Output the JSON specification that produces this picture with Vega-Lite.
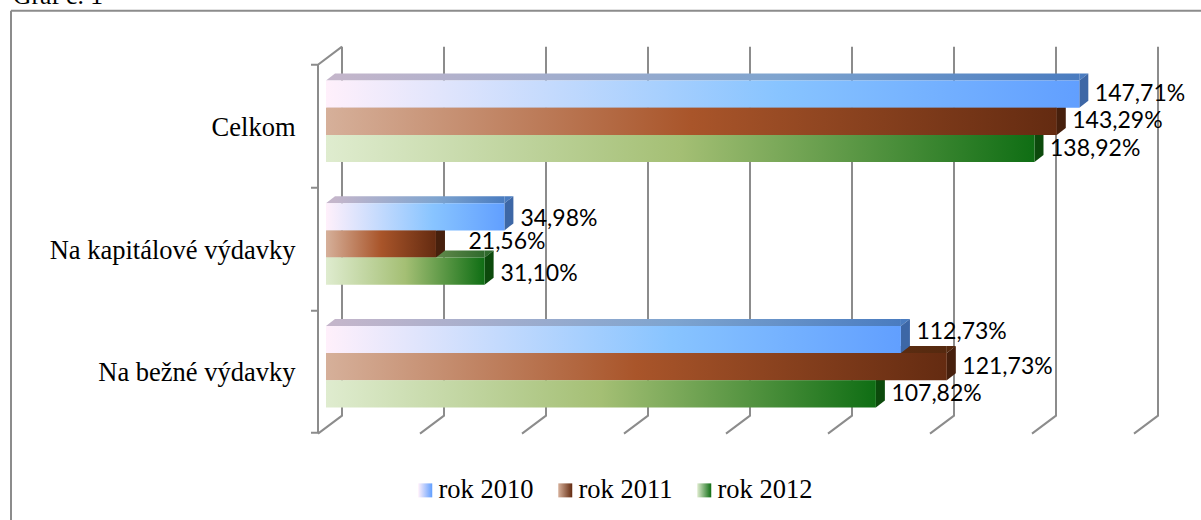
{"$schema":"https://vega.github.io/schema/vega-lite/v6.json","width":816,"height":368,"autosize":"none","padding":{"left":326,"top":60,"right":59,"bottom":92},"background":"white","title":{"text":"Graf č. 1","anchor":"start","frame":"group","dx":-313,"offset":-23,"baseline":"alphabetic","font":"Liberation Serif","fontSize":25.5,"fontWeight":"normal","color":"#000000"},"view":{"stroke":null},"data":{"values":[
{"category":"Celkom","series":"rok 2012","value":138.92,"label":"138,92%"},{"category":"Celkom","series":"rok 2011","value":143.29,"label":"143,29%"},{"category":"Celkom","series":"rok 2010","value":147.71,"label":"147,71%"},
{"category":"Na kapitálové výdavky","series":"rok 2012","value":31.10,"label":"31,10%"},{"category":"Na kapitálové výdavky","series":"rok 2011","value":21.56,"label":"21,56%"},{"category":"Na kapitálové výdavky","series":"rok 2010","value":34.98,"label":"34,98%"},
{"category":"Na bežné výdavky","series":"rok 2012","value":107.82,"label":"107,82%"},{"category":"Na bežné výdavky","series":"rok 2011","value":121.73,"label":"121,73%"},{"category":"Na bežné výdavky","series":"rok 2010","value":112.73,"label":"112,73%"}
]},
"encoding":{
"y":{"field":"category","type":"nominal","sort":["Celkom","Na kapitálové výdavky","Na bežné výdavky"],"scale":{"paddingInner":0.335,"paddingOuter":0.1675},"axis":{"title":null,"domain":false,"ticks":false,"labelPadding":31,"labelOffset":6.5,"labelFont":"Liberation Serif","labelFontSize":26.5,"labelColor":"#000000","labelLimit":320}},
"x":{"field":"value","type":"quantitative","stack":null,"scale":{"domain":[0,160],"nice":false},"axis":null},
"yOffset":{"field":"series","type":"nominal","sort":["rok 2010","rok 2011","rok 2012"]}
},
"resolve":{"scale":{"color":"independent"},"legend":{"color":"independent"}},
"layer":[
{"data":{"values":[{"category":"Na bežné výdavky","value":0}]},"mark":{"type":"point","filled":false,"stroke":"#8c8c8c","strokeWidth":2,"size":4,"opacity":1,"shape":"M-315,-356 L875,-356 M-315,-356 L-315,154 M16,-320 L-8,-302 L-8,66 M-15,-302 L-8,-302 M-15,-179 L-8,-179 M-15,-56 L-8,-56 M-15,66 L-8,66"},"encoding":{"yOffset":null}},
{"data":{"values":[{"category":"Na bežné výdavky","value":0},{"category":"Na bežné výdavky","value":20},{"category":"Na bežné výdavky","value":40},{"category":"Na bežné výdavky","value":60},{"category":"Na bežné výdavky","value":80},{"category":"Na bežné výdavky","value":100},{"category":"Na bežné výdavky","value":120},{"category":"Na bežné výdavky","value":140},{"category":"Na bežné výdavky","value":160}]},"mark":{"type":"point","filled":false,"stroke":"#8c8c8c","strokeWidth":2,"size":4,"opacity":1,"shape":"M16,-320 L16,49 L-8,67"},"encoding":{"yOffset":null}},
{"transform":[{"filter":"datum.series=='rok 2010'"}],"mark":{"type":"bar","height":7,"x2Offset":9,"fill":{"gradient":"linear","x1":0,"y1":0,"x2":1,"y2":0,"stops":[{"offset":0,"color":"#c4b6cb"},{"offset":0.6,"color":"#7ea4cf"},{"offset":1,"color":"#4a7cc0"}]}},"encoding":{"x2":{"datum":0},"yOffset":{"value":-3.5}}},
{"transform":[{"filter":"datum.series=='rok 2011'"}],"mark":{"type":"bar","height":7,"x2Offset":9,"fill":{"gradient":"linear","x1":0,"y1":0,"x2":1,"y2":0,"stops":[{"offset":0,"color":"#b08a72"},{"offset":0.5,"color":"#7d3f1d"},{"offset":1,"color":"#55290f"}]}},"encoding":{"x2":{"datum":0},"yOffset":{"value":23.7}}},
{"transform":[{"filter":"datum.series=='rok 2012'"}],"mark":{"type":"bar","height":7,"x2Offset":9,"fill":{"gradient":"linear","x1":0,"y1":0,"x2":1,"y2":0,"stops":[{"offset":0,"color":"#b7c9a5"},{"offset":0.5,"color":"#7e9a5c"},{"offset":1,"color":"#2f6a2c"}]}},"encoding":{"x2":{"datum":0},"yOffset":{"value":50.9}}},
{"mark":{"type":"point","filled":true,"opacity":1,"size":4,"strokeWidth":0,"shape":"M0,-13.6 L9,-20.6 L9,-13.6 Z"},"encoding":{"x":{"datum":0},"color":{"field":"series","type":"nominal","legend":null,"scale":{"domain":["rok 2010","rok 2011","rok 2012"],"range":["#c4b6cb","#b08a72","#b7c9a5"]}}}},
{"mark":{"type":"point","filled":true,"opacity":1,"size":4,"strokeWidth":0,"shape":"M0,-13.6 L0,-20.6 L9,-20.6 Z"},"encoding":{"color":{"field":"series","type":"nominal","legend":null,"scale":{"domain":["rok 2010","rok 2011","rok 2012"],"range":["#4a7cc0","#55290f","#2f6a2c"]}}}},
{"mark":{"type":"point","filled":true,"opacity":1,"size":4,"strokeWidth":0,"shape":"M0,-13.6 L9,-20.6 L9,6.6 L0,13.6 Z"},"encoding":{"color":{"field":"series","type":"nominal","legend":null,"scale":{"domain":["rok 2010","rok 2011","rok 2012"],"range":["#3d67a6","#47200d","#0c4a0c"]}}}},
{"mark":{"type":"bar","fill":"transparent"},"encoding":{"opacity":{"field":"series","type":"nominal","scale":{"domain":["rok 2010","rok 2011","rok 2012"],"range":[1,1,1]},
"legend":{"title":null,"orient":"none","legendX":86,"legendY":417,"padding":0,"direction":"horizontal","columns":3,"symbolType":"square","symbolSize":196,"symbolStrokeWidth":0,"columnPadding":18,"labelFont":"Liberation Serif","labelFontSize":26.5,"labelColor":"#000000","labelOffset":0,"encoding":{"symbols":{"fill":{"value":{"signal":"datum.value=='rok 2010' ? {gradient:'linear',x1:0,y1:0,x2:1,y2:0,stops:[{offset:0,color:'#fff0fb'},{offset:1,color:'#619fff'}]} : datum.value=='rok 2011' ? {gradient:'linear',x1:0,y1:0,x2:1,y2:0,stops:[{offset:0,color:'#d6b09a'},{offset:1,color:'#642b11'}]} : {gradient:'linear',x1:0,y1:0,x2:1,y2:0,stops:[{offset:0,color:'#dfeccf'},{offset:1,color:'#0f6e14'}]}"}}}}}}}},
{"transform":[{"filter":"datum.series=='rok 2010'"}],"mark":{"type":"bar","fill":{"gradient":"linear","x1":0,"y1":0,"x2":1,"y2":0,"stops":[{"offset":0,"color":"#fff0fb"},{"offset":0.6,"color":"#88c4ff"},{"offset":1,"color":"#619fff"}]}}},
{"transform":[{"filter":"datum.series=='rok 2011'"}],"mark":{"type":"bar","fill":{"gradient":"linear","x1":0,"y1":0,"x2":1,"y2":0,"stops":[{"offset":0,"color":"#d6b09a"},{"offset":0.5,"color":"#a9552a"},{"offset":1,"color":"#642b11"}]}}},
{"transform":[{"filter":"datum.series=='rok 2012'"}],"mark":{"type":"bar","fill":{"gradient":"linear","x1":0,"y1":0,"x2":1,"y2":0,"stops":[{"offset":0,"color":"#dfeccf"},{"offset":0.5,"color":"#a4bf74"},{"offset":1,"color":"#0f6e14"}]}}},
{"transform":[{"filter":"datum.label!='21,56%' && datum.label!='112,73%' && datum.label!='34,98%' && datum.label!='31,10%'"}],"mark":{"type":"text","align":"left","baseline":"middle","dx":15.5,"font":"Lato","fontSize":23,"color":"#000000"},"encoding":{"text":{"field":"label"}}},
{"transform":[{"filter":"datum.label=='34,98%' || datum.label=='31,10%'"}],"mark":{"type":"text","align":"left","baseline":"middle","dx":16,"dy":2.5,"font":"Lato","fontSize":23,"color":"#000000"},"encoding":{"text":{"field":"label"}}},
{"transform":[{"filter":"datum.label=='21,56%'"}],"mark":{"type":"text","align":"left","baseline":"middle","dx":32.5,"dy":-2,"font":"Lato","fontSize":23,"color":"#000000"},"encoding":{"text":{"field":"label"}}},
{"transform":[{"filter":"datum.label=='112,73%'"}],"mark":{"type":"text","align":"left","baseline":"middle","dx":15.5,"dy":-7.5,"font":"Lato","fontSize":23,"color":"#000000"},"encoding":{"text":{"field":"label"}}}
]}
